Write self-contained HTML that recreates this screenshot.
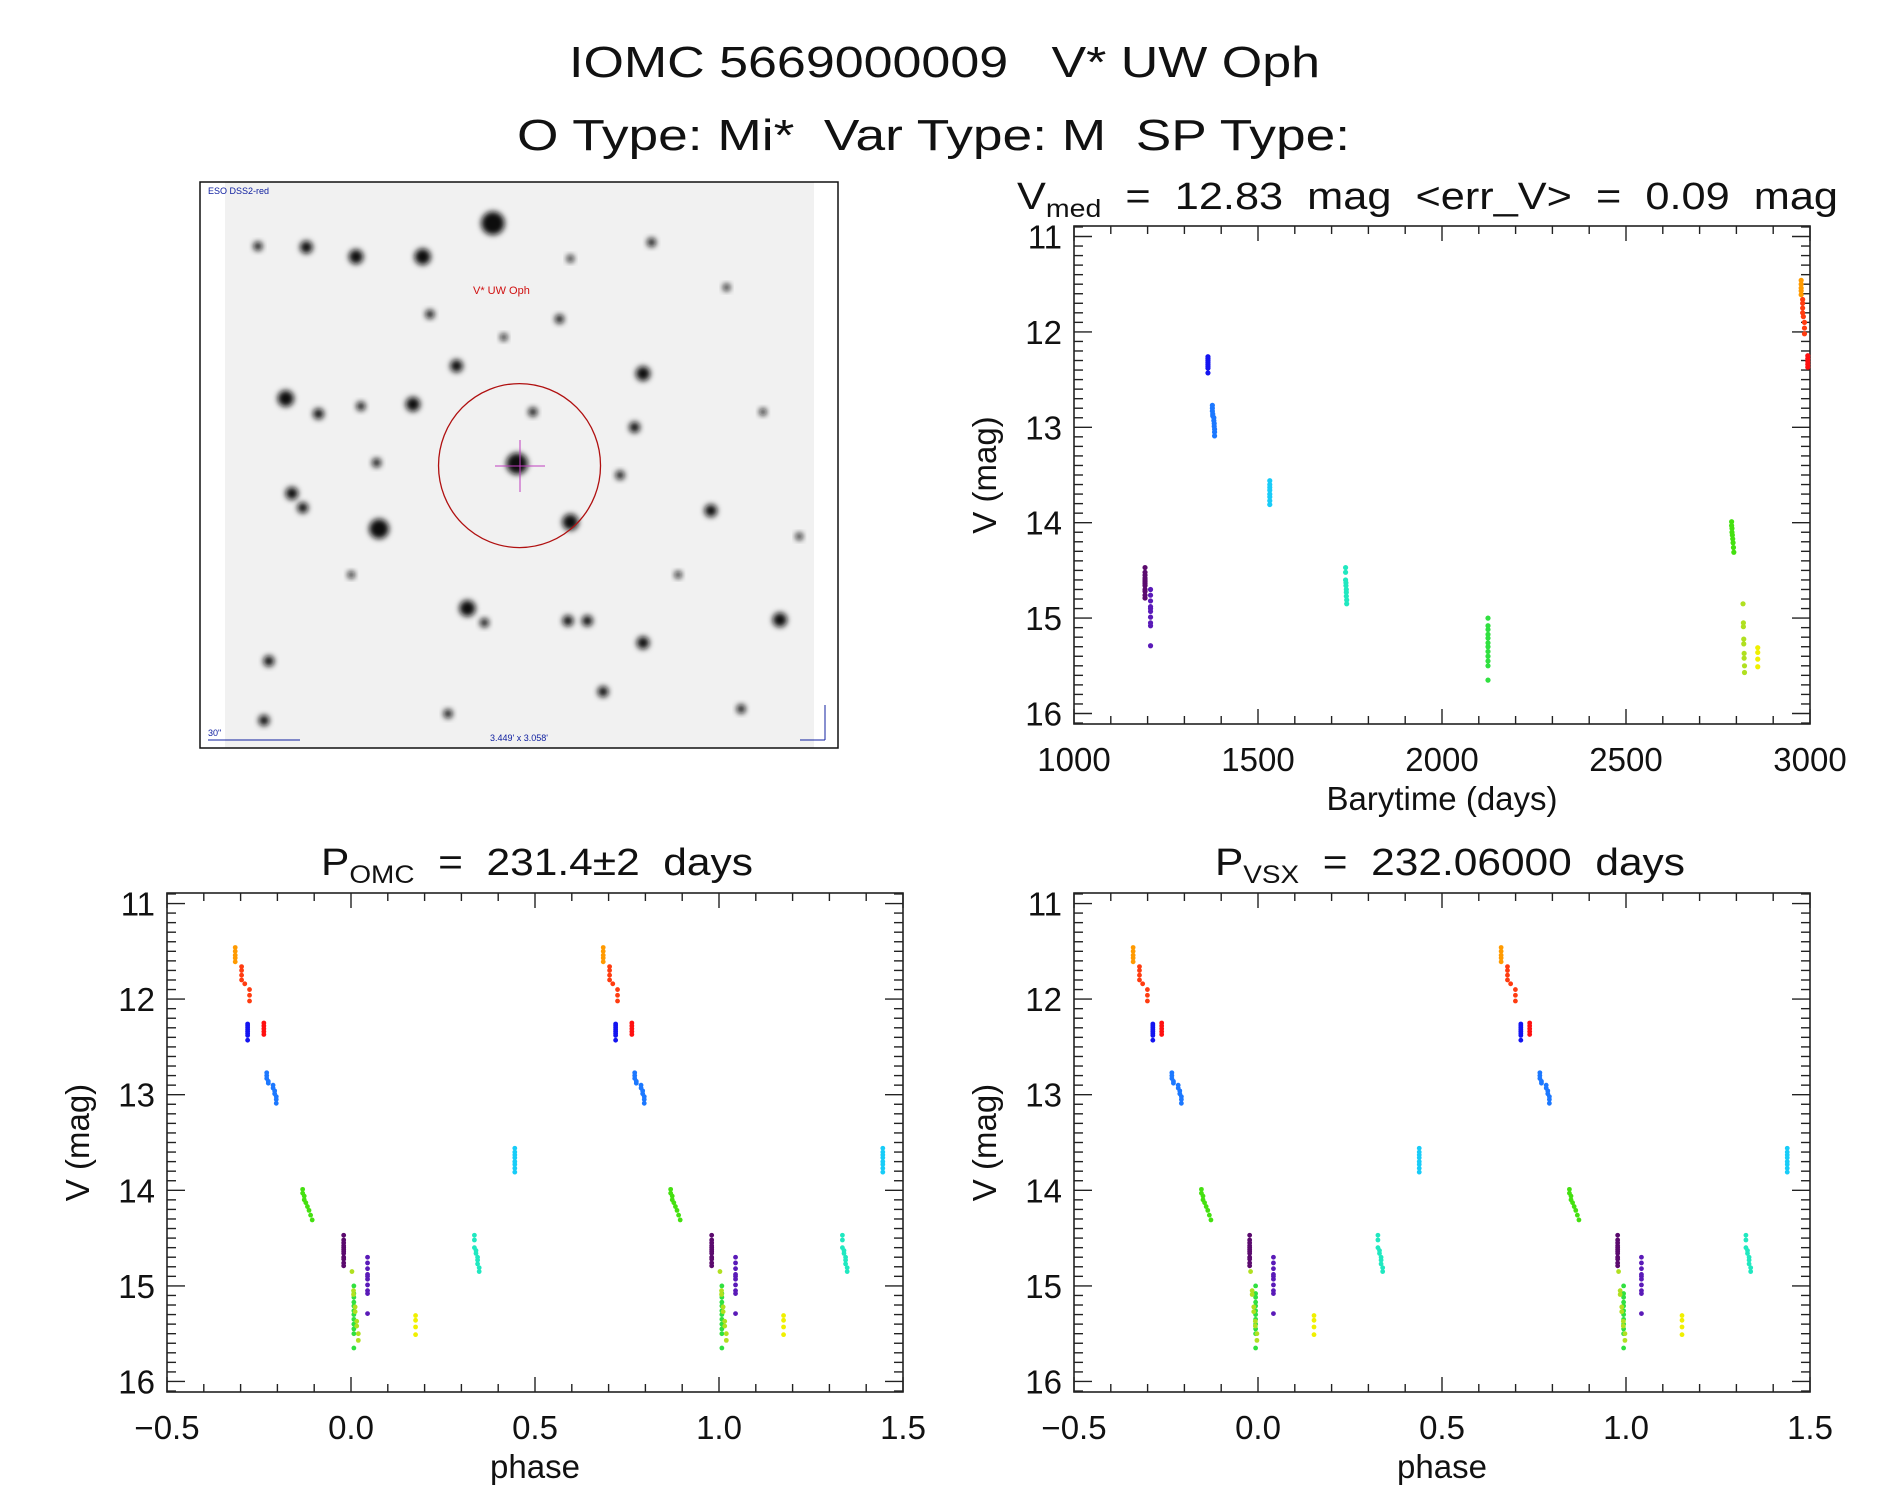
<!DOCTYPE html>
<html><head><meta charset="utf-8">
<style>
html,body{margin:0;padding:0;background:#fff;}
svg{display:block;font-family:"Liberation Sans",sans-serif;}
text{white-space:pre;}
</style></head>
<body>
<svg id="fig" width="1889" height="1494" viewBox="0 0 1889 1494" xmlns="http://www.w3.org/2000/svg" xml:space="preserve">
<defs>
<filter id="blur" x="-50%" y="-50%" width="200%" height="200%"><feGaussianBlur stdDeviation="3"/></filter>
</defs>
<g>
<text x="569" y="77" font-size="44" textLength="751" lengthAdjust="spacingAndGlyphs" fill="#111">IOMC 5669000009   V* UW Oph</text>
<text x="517" y="150" font-size="44" textLength="833" lengthAdjust="spacingAndGlyphs" fill="#111">O Type: Mi*  Var Type: M  SP Type:</text>
</g>
<g id="sky"></g>
<g id="p1"></g>
<g id="p2"></g>
<g id="p3"></g>
</svg>
<script>
// ---- data ----
const groupColors = ["#5b0a6e","#5a1ab8","#1414f0","#1c78ff","#18ccf8","#20e8c0","#30e040","#44e010","#b0e020","#f0f000","#ff9a00","#ff3c10","#ff1010"];
const groupTimes = [
 [1193,1193,1193,1193,1193,1193,1193,1193,1193,1193,1193,1193],
 [1208,1208,1208,1208,1208,1208,1208,1208,1208,1208],
 [1364,1364,1364,1364,1364,1364,1364,1364],
 [1376,1376,1376,1377,1377,1380,1380,1381,1381,1382,1382,1382],
 [1532,1532,1532,1532,1532,1532,1532,1532],
 [1738,1738,1738,1739,1739,1740,1740,1740,1741,1741],
 [2125,2125,2125,2125,2125,2125,2125,2125,2125,2125,2125,2125],
 [2787,2787,2788,2788,2789,2790,2791,2792,2793],
 [2818,2819,2819,2820,2820,2821,2821,2822,2822],
 [2858,2858,2858,2858],
 [2976,2976,2976,2976,2976],
 [2980,2980,2980,2980,2982,2985,2985,2985],
 [2994,2994,2994,2994,2994]
];
const groupMags = [
 [14.47,14.52,14.55,14.58,14.60,14.62,14.64,14.66,14.70,14.72,14.76,14.79],
 [14.70,14.76,14.82,14.88,14.90,14.93,14.99,15.05,15.08,15.29],
 [12.26,12.28,12.30,12.32,12.34,12.36,12.38,12.43],
 [12.77,12.80,12.83,12.86,12.88,12.90,12.93,12.96,12.99,13.02,13.05,13.09],
 [13.56,13.60,13.63,13.66,13.70,13.73,13.77,13.81],
 [14.47,14.52,14.60,14.63,14.66,14.70,14.73,14.77,14.81,14.85],
 [15.00,15.08,15.12,15.17,15.21,15.26,15.30,15.35,15.40,15.45,15.50,15.65],
 [13.99,14.03,14.06,14.10,14.13,14.17,14.21,14.26,14.31],
 [14.85,15.05,15.09,15.22,15.27,15.37,15.42,15.50,15.57],
 [15.31,15.36,15.43,15.51],
 [11.46,11.50,11.54,11.57,11.61],
 [11.66,11.70,11.75,11.80,11.84,11.90,11.96,12.02],
 [12.25,12.28,12.31,12.34,12.37]
];
const epochT0 = 966.2;
const periodOMC = 231.4;
const periodVSX = 232.06;
const magTicks = [11,12,13,14,15,16];
const timeTicks = [1000,1500,2000,2500,3000];
const phaseTicks = [-0.5,0.0,0.5,1.0,1.5];
const phaseTickLabels = ["\u22120.5","0.0","0.5","1.0","1.5"];

const NS="http://www.w3.org/2000/svg";
function el(tag,attrs,parent){const e=document.createElementNS(NS,tag);for(const k in attrs)e.setAttribute(k,attrs[k]);parent.appendChild(e);return e;}

function makeAxes(g,box,xr,yr,xMajor,xMinorStep,xLabels,xTitle){
  const sx=v=>box.x0+(v-xr[0])/(xr[1]-xr[0])*(box.x1-box.x0);
  const sy=v=>box.y0+(v-yr[0])/(yr[1]-yr[0])*(box.y1-box.y0);
  const frame=el('rect',{x:box.x0,y:box.y0,width:box.x1-box.x0,height:box.y1-box.y0,fill:'none',stroke:'#222','stroke-width':1.6},g);
  
  
  for(let m=Math.ceil(yr[0]*10);m<=Math.floor(yr[1]*10);m++){
    const v=m/10, y=sy(v), major=(m%10===0), L=major?18:9;
    el('line',{x1:box.x0,x2:box.x0+L,y1:y,y2:y,stroke:'#222','stroke-width':1.4},g);
    el('line',{x1:box.x1,x2:box.x1-L,y1:y,y2:y,stroke:'#222','stroke-width':1.4},g);
  }
  magTicks.forEach(v=>{
    const t=el('text',{x:box.x0-12,y:sy(v)+12,'font-size':33,'text-anchor':'end',fill:'#111'},g);
    t.textContent=String(v);
    
    
  });
  const n=Math.round((xr[1]-xr[0])/xMinorStep);
  for(let i=0;i<=n;i++){
    const v=xr[0]+i*xMinorStep, x=sx(v);
    const major=Math.abs(((v-xr[0])/xMajor)-Math.round((v-xr[0])/xMajor))<1e-6, L=major?15:8;
    el('line',{x1:x,x2:x,y1:box.y1,y2:box.y1-L,stroke:'#222','stroke-width':1.4},g);
    el('line',{x1:x,x2:x,y1:box.y0,y2:box.y0+L,stroke:'#222','stroke-width':1.4},g);
  }
  xLabels.forEach(([v,s])=>{
    const t=el('text',{x:sx(v),y:box.y1+47,'font-size':33,'text-anchor':'middle',fill:'#111'},g);
    t.textContent=s;
    
    
  });
  const xt=el('text',{x:(box.x0+box.x1)/2,y:box.y1+86,'font-size':33,'text-anchor':'middle',fill:'#111'},g);
  xt.textContent=xTitle;
  
  
  const cx=box.x0-89, cy=(box.y0+box.y1)/2;
  const yt=el('text',{x:cx,y:cy+11,'font-size':33,'text-anchor':'middle',fill:'#111',transform:`rotate(-90 ${cx} ${cy})`},g);
  yt.textContent='V (mag)';
  
  
  return {sx,sy};
}

function title(g,x,y,len,main,sub,rest){
  const t=el('text',{x:x,y:y,'font-size':38,fill:'#111'},g);
  
  
  const a=el('tspan',{},t);a.textContent=main;
  const b=el('tspan',{dy:8,'font-size':25},t);b.textContent=sub;
  const c=el('tspan',{dy:-8},t);c.textContent=rest;
  t.setAttribute('textLength',len);t.setAttribute('lengthAdjust','spacingAndGlyphs');
}

(function(){
  const g=document.getElementById('p1');
  const ax=makeAxes(g,{x0:1074,x1:1810,y0:226,y1:724},[1000,3000],[10.89,16.11],500,100,timeTicks.map(v=>[v,String(v)]),'Barytime (days)');
  title(g,1017,209,821,'V','med','  =  12.83  mag  <err_V>  =  0.09  mag');
  groupTimes.forEach((ts,gi)=>ts.forEach((t,i)=>{
    const c=el('circle',{cx:ax.sx(t),cy:ax.sy(groupMags[gi][i]),r:2.6,fill:groupColors[gi]},g);
    
    
  }));
})();

function phasePanel(id,x0,x1,period,tx,tlen,sub,rest){
  const g=document.getElementById(id);
  const ax=makeAxes(g,{x0:x0,x1:x1,y0:893,y1:1392},[-0.5,1.5],[10.89,16.11],0.5,0.1,phaseTicks.map((v,i)=>[v,phaseTickLabels[i]]),'phase');
  title(g,tx,875,tlen,'P',sub,rest);
  groupTimes.forEach((ts,gi)=>ts.forEach((t,i)=>{
    let p=((t-epochT0)/period)%1; if(p<0)p+=1; if(p>=0.5)p-=1;
    [p,p+1].forEach(q=>{
      const c=el('circle',{cx:ax.sx(q),cy:ax.sy(groupMags[gi][i]),r:2.4,fill:groupColors[gi]},g);
      
      
    });
  }));
}
phasePanel('p2',167,903,periodOMC,321,432,'OMC','  =  231.4\u00b12  days');
phasePanel('p3',1074,1810,periodVSX,1215,470,'VSX','  =  232.06000  days');

(function(){
  const g=document.getElementById('sky');
  el('rect',{x:225,y:182,width:589,height:566,fill:'#f1f1f1'},g);
  const stars=[[407,233,13],[349,268,9],[294,268,8],[253,258,7],[213,257,5],[236,416,9],[263,432,6],[298,424,5],[341,422,8],[377,382,7],[531,390,8],[524,446,6],[427,484,12],[471,545,9],[313,552,11],[241,515,7],[587,533,7],[644,647,8],[386,635,9],[531,671,7],[498,722,6],[469,648,6],[485,648,6],[222,690,6],[218,752,6],[311,483,5],[355,328,5],[416,352,4],[462,333,5],[538,253,5],[471,270,4],[612,740,5],[250,530,6],[400,650,5],[512,496,5],[370,745,5],[630,430,4],[290,600,4],[560,600,4],[600,300,4],[660,560,4],[440,430,5]];
  stars.forEach(s=>{
    const c=el('circle',{cx:s[0]*1.211,cy:s[1]*0.958,r:s[2]*0.9,fill:'#111',filter:'url(#blur)'},g);
    
    
  });
  el('rect',{x:200,y:182,width:638,height:566,fill:'none',stroke:'#111','stroke-width':1.5},g);
  el('rect',{x:201,y:183,width:24,height:564,fill:'#fff'},g);
  el('rect',{x:814,y:183,width:23,height:564,fill:'#fff'},g);
  const circ=el('ellipse',{cx:429*1.211,cy:486*0.958,rx:81,ry:82,fill:'none',stroke:'#b01010','stroke-width':1.3},g);
  
  
  el('line',{x1:495,x2:545,y1:466,y2:466,stroke:'#c040c0','stroke-width':1},g);
  el('line',{x1:520,x2:520,y1:440,y2:492,stroke:'#c040c0','stroke-width':1},g);
  const lab=el('text',{x:473,y:294,'font-size':11,fill:'#d01010'},g);
  lab.textContent='V* UW Oph';
  
  
  const s1=el('text',{x:208,y:194,'font-size':9,fill:'#1020a0'},g);s1.textContent='ESO DSS2-red';
  const s2=el('text',{x:208,y:736,'font-size':9,fill:'#1020a0'},g);s2.textContent='30"';
  el('line',{x1:208,x2:300,y1:740,y2:740,stroke:'#1020a0','stroke-width':1},g);
  const s3=el('text',{x:490,y:741,'font-size':9,fill:'#1020a0'},g);s3.textContent='3.449\' x 3.058\'';
  el('line',{x1:825,x2:825,y1:705,y2:740,stroke:'#1020a0','stroke-width':1},g);
  el('line',{x1:800,x2:825,y1:740,y2:740,stroke:'#1020a0','stroke-width':1},g);
})();
</script>
</body></html>
